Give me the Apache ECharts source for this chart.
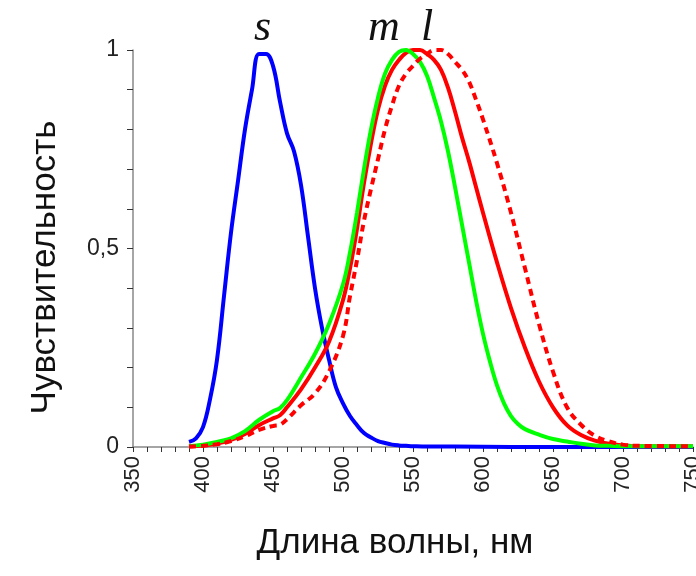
<!DOCTYPE html>
<html>
<head>
<meta charset="utf-8">
<title>Чувствительность колбочек</title>
<script src="https://cdn.jsdelivr.net/npm/echarts@6/dist/echarts.min.js"></script>
<style>
  html, body { margin: 0; padding: 0; background: #fff; }
  #chart { width: 696px; height: 576px; }
</style>
</head>
<body>
<div id="chart"></div>
<script>
// длины волн (нм) и чувствительности
const sWave = [390, 395, 400, 405, 410, 415, 420, 425, 430, 435, 440, 445, 450, 455, 460, 465, 470, 475, 480, 485, 490, 495, 500, 505, 510, 515, 520, 525, 530, 535, 540, 545, 550, 560, 580, 620, 700, 750]
const sVal = [0.013, 0.022, 0.05, 0.12, 0.22, 0.38, 0.54, 0.67, 0.80, 0.90, 0.99, 0.99, 0.96, 0.87, 0.79, 0.745, 0.66, 0.53, 0.40, 0.30, 0.22, 0.15, 0.11, 0.078, 0.055, 0.035, 0.024, 0.015, 0.010, 0.006, 0.004, 0.003, 0.002, 0.001, 0.001, 0, 0, 0]

const mWave = [390, 400, 410, 420, 430, 440, 450, 455, 460, 470, 480, 490, 500, 505, 510, 515, 520, 525, 530, 535, 540, 545, 550, 555, 560, 565, 570, 575, 580, 585, 590, 595, 600, 605, 610, 615, 620, 625, 630, 640, 650, 660, 670, 680, 690, 700, 750]
const mVal = [0.002, 0.006, 0.013, 0.022, 0.040, 0.068, 0.090, 0.098, 0.118, 0.175, 0.235, 0.31, 0.41, 0.49, 0.59, 0.70, 0.80, 0.88, 0.94, 0.975, 0.995, 1.0, 0.99, 0.97, 0.935, 0.88, 0.82, 0.745, 0.655, 0.56, 0.465, 0.37, 0.285, 0.215, 0.155, 0.11, 0.078, 0.058, 0.045, 0.031, 0.02, 0.014, 0.008, 0.004, 0.003, 0.002, 0.002]

const lWave = [390, 400, 410, 420, 430, 440, 450, 455, 460, 470, 480, 490, 500, 505, 510, 515, 520, 525, 530, 535, 540, 545, 550, 555, 560, 565, 570, 575, 580, 585, 590, 595, 600, 610, 620, 630, 640, 650, 660, 670, 680, 690, 700, 710, 750]
const lVal = [0.001, 0.004, 0.009, 0.018, 0.033, 0.055, 0.072, 0.08, 0.10, 0.145, 0.20, 0.265, 0.37, 0.45, 0.55, 0.665, 0.765, 0.85, 0.91, 0.95, 0.975, 0.993, 1.0, 1.0, 0.99, 0.975, 0.95, 0.905, 0.845, 0.78, 0.72, 0.655, 0.59, 0.465, 0.35, 0.25, 0.165, 0.10, 0.055, 0.03, 0.016, 0.008, 0.004, 0.002, 0.002]

// пунктир: вариант кривой l
const l2Wave = [390, 400, 410, 420, 430, 440, 450, 455, 460, 470, 480, 490, 500, 505, 510, 515, 520, 525, 530, 535, 540, 545, 550, 555, 560, 565, 570, 575, 580, 585, 590, 595, 600, 610, 620, 630, 640, 650, 660, 670, 680, 690, 700, 710, 750]
const l2Val = [0.001, 0.003, 0.007, 0.015, 0.027, 0.043, 0.053, 0.056, 0.07, 0.105, 0.135, 0.19, 0.28, 0.38, 0.47, 0.57, 0.65, 0.725, 0.80, 0.86, 0.91, 0.94, 0.96, 0.978, 0.99, 1.0, 1.0, 0.99, 0.97, 0.95, 0.92, 0.875, 0.825, 0.715, 0.59, 0.45, 0.31, 0.19, 0.10, 0.056, 0.028, 0.014, 0.006, 0.003, 0.002]

const xMajor = [350, 400, 450, 500, 550, 600, 650, 700, 750]
const yLabels = { 0: '0', 0.5: '0,5', 1: '1' }

const zip = (xs, ys) => xs.map((x, i) => [x, ys[i]])

const chart = echarts.init(document.getElementById('chart'))

const lineSeries = (name, xs, ys, color, dashed) => ({
  name: name,
  type: 'line',
  data: zip(xs, ys),
  smooth: 0.4,
  showSymbol: false,
  silent: true,
  lineStyle: {
    color: color,
    width: 4,
    type: dashed ? [7, 5] : 'solid',
    cap: 'butt'
  }
})

const letter = (text, left) => ({
  type: 'text',
  left: left,
  top: 6,
  style: { text: text, fontSize: 44, fontStyle: 'italic', fontFamily: 'Liberation Serif', fill: '#111' }
})

chart.setOption({
  backgroundColor: '#fff',
  animation: false,
  grid: { left: 133, right: 3, top: 50, bottom: 129, containLabel: false, outerBoundsMode: 'none' },
  xAxis: {
    type: 'value',
    min: 350,
    max: 750,
    interval: 10,
    name: 'Длина волны, нм',
    nameLocation: 'middle',
    nameGap: 79,
    nameTextStyle: { fontSize: 35, color: '#111', fontFamily: 'Liberation Sans', padding: [0, 36, 0, 0] },
    axisLine: { show: true, lineStyle: { color: '#888', width: 1.5 } },
    axisTick: { show: true, length: 5, lineStyle: { color: '#333', width: 1 } },
    splitLine: { show: false },
    axisLabel: {
      rotate: 90,
      fontSize: 22,
      color: '#222',
      fontFamily: 'Liberation Sans',
      margin: 9,
      formatter: v => (xMajor.indexOf(Math.round(v)) >= 0 ? String(Math.round(v)) : '')
    }
  },
  yAxis: {
    type: 'value',
    min: 0,
    max: 1,
    interval: 0.1,
    name: 'Чувствительность',
    nameLocation: 'middle',
    nameRotate: 90,
    nameGap: 70,
    nameTextStyle: { fontSize: 35, color: '#111', fontFamily: 'Liberation Sans', padding: [0, 38, 0, 0] },
    axisLine: { show: true, lineStyle: { color: '#888', width: 1.5 } },
    axisTick: { show: true, length: 6, lineStyle: { color: '#333', width: 1 } },
    splitLine: { show: false },
    axisLabel: {
      fontSize: 23,
      color: '#222',
      fontFamily: 'Liberation Sans',
      margin: 14,
      formatter: v => {
        const k = Math.round(v * 10) / 10
        return yLabels[k] !== undefined ? yLabels[k] : ''
      }
    }
  },
  graphic: [letter('s', 254), letter('m', 368), letter('l', 421)],
  series: [
    lineSeries('s', sWave, sVal, '#0000ff', false),
    lineSeries('l', lWave, lVal, '#ff0000', false),
    lineSeries('m', mWave, mVal, '#00ff00', false),
    lineSeries('l2', l2Wave, l2Val, '#ff0000', true)
  ]
})
</script>
</body>
</html>
